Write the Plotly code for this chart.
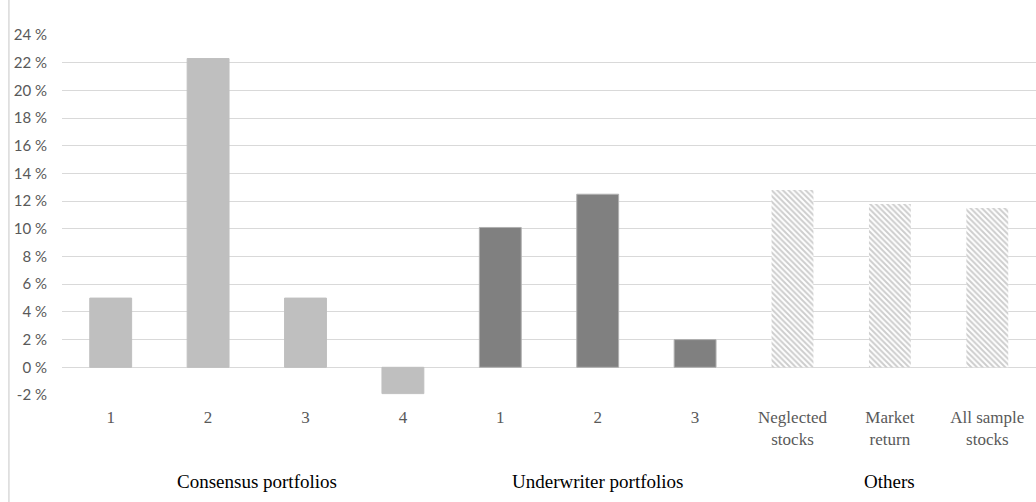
import plotly.graph_objects as go

# Data
consensus_labels = ["1", "2", "3", "4"]
consensus_values = [5.0, 22.3, 5.0, -1.9]
underwriter_labels = ["1", "2", "3"]
underwriter_values = [10.1, 12.5, 2.0]
others_labels = ["Neglected<br>stocks", "Market<br>return", "All sample<br>stocks"]
others_values = [12.8, 11.8, 11.5]
group_names = ["Consensus portfolios", "Underwriter portfolios", "Others"]
y_ticks = [-2, 0, 2, 4, 6, 8, 10, 12, 14, 16, 18, 20, 22, 24]
y_tick_text = [f"{v} %" for v in y_ticks]

SERIF = "Liberation Serif, Times New Roman, serif"
SANS = "Lato, Open Sans, sans-serif"

groups = [
    (consensus_labels, consensus_values, dict(color="#BFBFBF", line=dict(color="#BFBFBF", width=1))),
    (underwriter_labels, underwriter_values, dict(color="#808080", line=dict(color="#B0B0B0", width=1))),
    (others_labels, others_values, dict(color="white", line=dict(width=0),
                                        pattern=dict(shape="\\", fgcolor="#9C9C9C", bgcolor="white",
                                                     size=4, solidity=0.5))),
]

fig = go.Figure()
all_labels = []
pos = 0
group_centers = []
for labels, values, marker in groups:
    xs = list(range(pos, pos + len(labels)))
    fig.add_trace(go.Bar(x=xs, y=values, marker=marker, width=0.43, showlegend=False))
    all_labels += labels
    group_centers.append((xs[0] + xs[-1]) / 2)
    pos += len(labels)

for name, cx in zip(group_names, group_centers):
    fig.add_annotation(x=cx, xref="x", y=-0.239, yref="paper", text=name, showarrow=False,
                       font=dict(family=SERIF, size=19, color="#000000"),
                       yanchor="middle")

# left border line of the chart area
fig.add_shape(type="line", xref="paper", yref="paper", x0=-0.0545, x1=-0.0545, y0=-0.3, y1=1.1,
              line=dict(color="#D9D9D9", width=1.5))

fig.update_layout(
    width=1036, height=502,
    margin=dict(l=62, r=0, t=35, b=107),
    paper_bgcolor="white", plot_bgcolor="white",
    barmode="overlay",
    font=dict(family=SERIF),
    xaxis=dict(tickmode="array", tickvals=list(range(len(all_labels))), ticktext=all_labels,
               range=[-0.5, len(all_labels) - 0.5], showgrid=False, zeroline=False, showline=False,
               ticks="", ticklabelstandoff=10,
               tickfont=dict(family=SERIF, size=17, color="#595959")),
    yaxis=dict(range=[-2, 24], tickmode="array", tickvals=y_ticks, ticktext=y_tick_text,
               showgrid=True, gridcolor="#D9D9D9",
               gridwidth=1, zeroline=True, zerolinecolor="#D9D9D9", zerolinewidth=1,
               ticklabelstandoff=14,
               tickfont=dict(family=SANS, size=15, color="#595959"), ticks=""),
)

fig.write_html("out.html", config={"displayModeBar": False},
               post_script="document.body.style.margin='0';")
